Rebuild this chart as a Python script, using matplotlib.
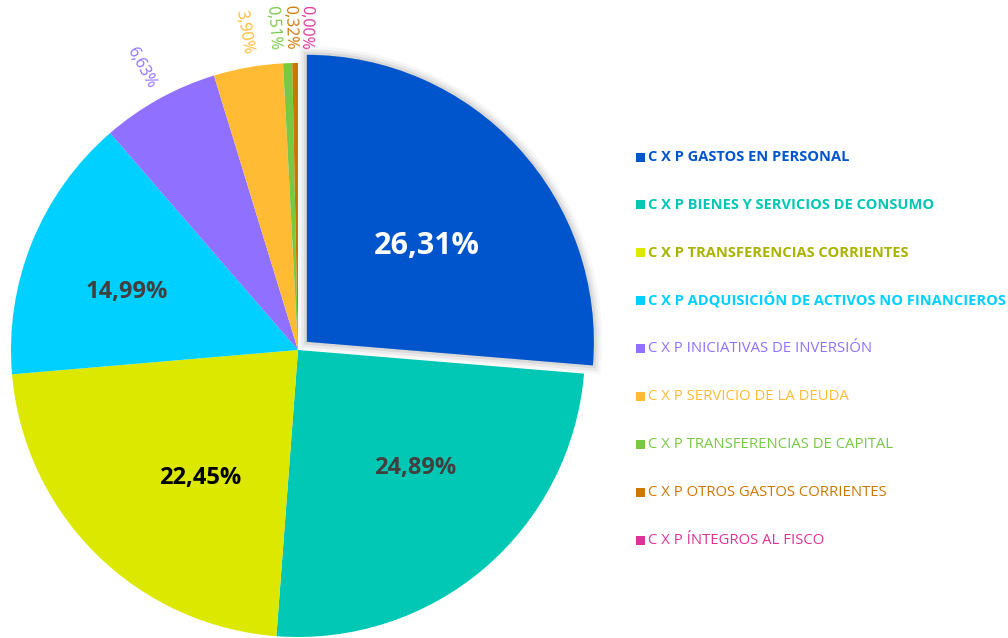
import matplotlib
matplotlib.use('Agg')
import matplotlib.pyplot as plt
import matplotlib.patheffects as pe
from matplotlib.patches import Rectangle
import numpy as np

categories = [
    "C X P GASTOS EN PERSONAL",
    "C X P BIENES Y SERVICIOS DE CONSUMO",
    "C X P TRANSFERENCIAS CORRIENTES",
    "C X P ADQUISICIÓN DE ACTIVOS NO FINANCIEROS",
    "C X P INICIATIVAS DE INVERSIÓN",
    "C X P SERVICIO DE LA DEUDA",
    "C X P TRANSFERENCIAS DE CAPITAL",
    "C X P OTROS GASTOS CORRIENTES",
    "C X P ÍNTEGROS AL FISCO",
]
values = [26.31, 24.89, 22.45, 14.99, 6.63, 3.90, 0.51, 0.32, 0.00]
colors = ["#0055cc", "#00c8b4", "#dde800", "#00d0ff", "#8f70ff",
          "#ffbb33", "#77c944", "#cc7700", "#dd3399"]
legend_text_colors = ["#0055cc", "#00c8b4", "#a9b300", "#00d0ff", "#8f70ff",
                      "#ffbb33", "#77c944", "#cc7700", "#dd3399"]

FONT = "Open Sans"
W, H = 1008, 638
fig = plt.figure(figsize=(W / 100, H / 100), dpi=100)
R = 287.0
cx, cy = 298.0, 350.0
ax = fig.add_axes([0, 0, 1, 1])

explode = [0.042] + [0] * (len(values) - 1)
wedges, _ = ax.pie(values, colors=colors, startangle=90, counterclock=False,
                   explode=explode, radius=1, center=(0, 0),
                   wedgeprops=dict(linewidth=0))
ax.set_xlim(-cx / R, (W - cx) / R)
ax.set_ylim(-(H - cy) / R, cy / R)
ax.set_aspect('equal')
ax.axis('off')

# soft shadow around the exploded slice
wedges[0].set_path_effects([
    pe.Stroke(linewidth=12, foreground='black', alpha=0.03),
    pe.Stroke(linewidth=8, foreground='black', alpha=0.05),
    pe.Stroke(linewidth=4, foreground='black', alpha=0.07),
    pe.Normal(),
])
wedges[0].set_zorder(3)

inner_colors = ["white", "#404040", "black", "#404040"]
inner_sizes = [22, 17, 17, 17]
inner_r = [0.535, 0.58, 0.56, 0.63]
inner_shift = [-3.9, 4.5, 7.3, 3.4]
angle_shift = [0, 0, 0, 0, 0, -0.4, 2.3, 0.8, -1.4]

for i, (w, v) in enumerate(zip(wedges, values)):
    mid_deg = (w.theta1 + w.theta2) / 2
    c = w.center
    txt = f"{v:.2f}%".replace('.', ',')
    if v >= 10:
        r = inner_r[i]
        a = np.deg2rad(mid_deg + inner_shift[i])
        ax.text(c[0] + r * np.cos(a), c[1] + r * np.sin(a), txt,
                ha='center', va='center', fontsize=inner_sizes[i],
                fontweight='bold', color=inner_colors[i], family=FONT, zorder=5)
    else:
        a = mid_deg + angle_shift[i]
        ar = np.deg2rad(a)
        r = 1.125
        ax.text(c[0] + r * np.cos(ar), c[1] + r * np.sin(ar), txt,
                ha='center', va='center', fontsize=11.5, color=colors[i],
                rotation=a - 180, rotation_mode='anchor', family=FONT, zorder=5)

# legend
y0, dy = 157, 47.9
for i, lab in enumerate(categories):
    y = y0 + i * dy
    fig.patches.append(Rectangle((636 / W, 1 - (y + 4.5) / H), 9 / W, 9 / H,
                                 transform=fig.transFigure, facecolor=colors[i],
                                 edgecolor='none'))
    fig.text(648 / W, 1 - y / H, lab, ha='left', va='center',
             fontsize=10.5 if i < 4 else 10.7,
             color=legend_text_colors[i], family=FONT,
             fontweight='bold' if i < 4 else 'normal')

fig.savefig("out.png", dpi=100)
